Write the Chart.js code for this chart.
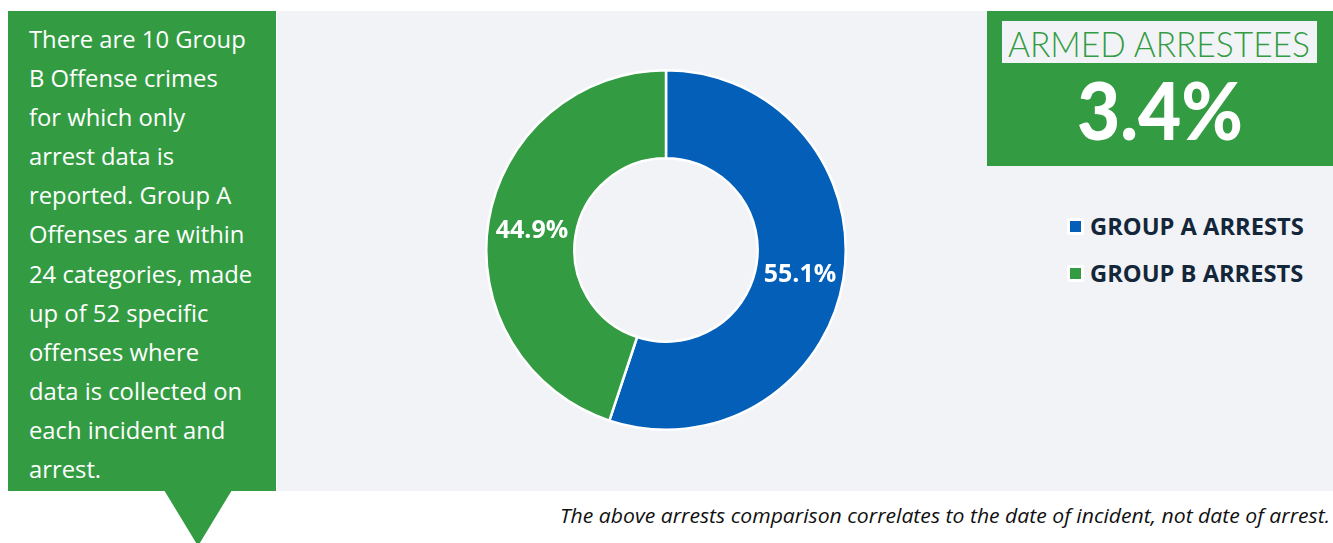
<!DOCTYPE html>
<html>
<head>
<meta charset="utf-8">
<script src="https://cdn.jsdelivr.net/npm/chart.js@4"></script>
<style>
  html, body { margin:0; padding:0; background:#ffffff; }
  body { width:1333px; height:543px; position:relative; overflow:hidden; font-family:"Open Sans", sans-serif; }
  #panel { position:absolute; left:277px; top:11px; width:1056px; height:480px; background:#f2f3f7; }
  #note { position:absolute; left:8px; top:11px; width:268px; height:480px; background:#339c43; color:#fff;
          font-size:23.8px; line-height:39.1px; box-sizing:border-box; padding:9px 0 0 21px; white-space:nowrap; }
  #tri { position:absolute; left:164px; top:490px; width:0; height:0; border-left:34px solid transparent;
         border-right:34px solid transparent; border-top:56px solid #339c43; }
  #chartBox { position:absolute; left:485px; top:69px; width:362px; height:362px; }
  #kpi { position:absolute; left:987px; top:11px; width:346px; height:155px; background:#339c43; }
  #kpiTitle { position:absolute; left:15px; top:10px; width:315px; height:42px; background:#f2f3f7; }
  #kpiTitle span { position:absolute; left:6px; top:0; color:#339c43; white-space:nowrap;
              font-family:"Lato", sans-serif; font-weight:300; font-size:35px; line-height:44px; transform-origin:left center; }
  #kpiValue { position:absolute; left:90px; top:53px; color:#fff; font-family:"Lato", sans-serif; white-space:nowrap;
              font-weight:900; font-size:80px; line-height:90px; transform-origin:left center; }
  #legend { position:absolute; left:1067px; top:209px; }
  .lg { position:relative; height:47px; font-weight:700; font-size:23.7px; color:#14273a; line-height:34px; padding-left:23px; white-space:nowrap; }
  .lg .sw { position:absolute; left:0; top:9px; width:17px; height:17px; background:#fff; border-radius:2px; }
  .lg .sw i { position:absolute; left:3px; top:3px; width:11px; height:11px; }
  #foot { position:absolute; left:560px; top:502px; font-style:italic; font-size:20px; line-height:28px; color:#111; white-space:nowrap;
          transform-origin:left center; }
</style>
</head>
<body>
<div id="panel"></div>
<div id="note">There are 10 Group<br>B Offense crimes<br>for which only<br>arrest data is<br>reported. Group A<br>Offenses are within<br>24 categories, made<br>up of 52 specific<br>offenses where<br>data is collected on<br>each incident and<br>arrest.</div>
<div id="tri"></div>
<div id="chartBox"><canvas id="c"></canvas></div>
<div id="kpi">
  <div id="kpiTitle"><span>ARMED ARRESTEES</span></div>
  <div id="kpiValue">3.4%</div>
</div>
<div id="legend"></div>
<div id="foot">The above arrests comparison correlates to the date of incident, not date of arrest.</div>
<script>
const categories = ["GROUP A ARRESTS", "GROUP B ARRESTS"];
const values = [55.1, 44.9];
const colors = ["#035fb8", "#339c43"];

function fitWidth(el, w) {
  const nat = el.getBoundingClientRect().width;
  el.style.transform = 'scaleX(' + (w / nat) + ')';
}
fitWidth(document.querySelector('#kpiTitle span'), 302);
fitWidth(document.getElementById('kpiValue'), 166);
fitWidth(document.getElementById('foot'), 770);

const lg = document.getElementById('legend');
categories.forEach((c, i) => {
  const d = document.createElement('div');
  d.className = 'lg';
  d.innerHTML = '<span class="sw"><i style="background:' + colors[i] + '"></i></span>' + c;
  lg.appendChild(d);
});

const labelPlugin = {
  id: 'sliceLabels',
  afterDatasetsDraw(chart) {
    const ctx = chart.ctx;
    const meta = chart.getDatasetMeta(0);
    ctx.save();
    ctx.font = '700 25px "Open Sans"';
    ctx.fillStyle = '#ffffff';
    ctx.textAlign = 'center';
    ctx.textBaseline = 'middle';
    meta.data.forEach((arc, i) => {
      const p = arc.tooltipPosition();
      ctx.fillText(values[i].toFixed(1) + '%', p.x, p.y + 3);
    });
    ctx.restore();
  }
};

new Chart(document.getElementById('c'), {
  type: 'doughnut',
  data: { labels: categories, datasets: [{ data: values, backgroundColor: colors, borderColor: '#ffffff', borderWidth: 2.5 }] },
  options: {
    responsive: true, maintainAspectRatio: false, animation: false,
    cutout: '51%',
    plugins: { legend: { display: false }, tooltip: { enabled: false } }
  },
  plugins: [labelPlugin]
});
</script>
</body>
</html>
